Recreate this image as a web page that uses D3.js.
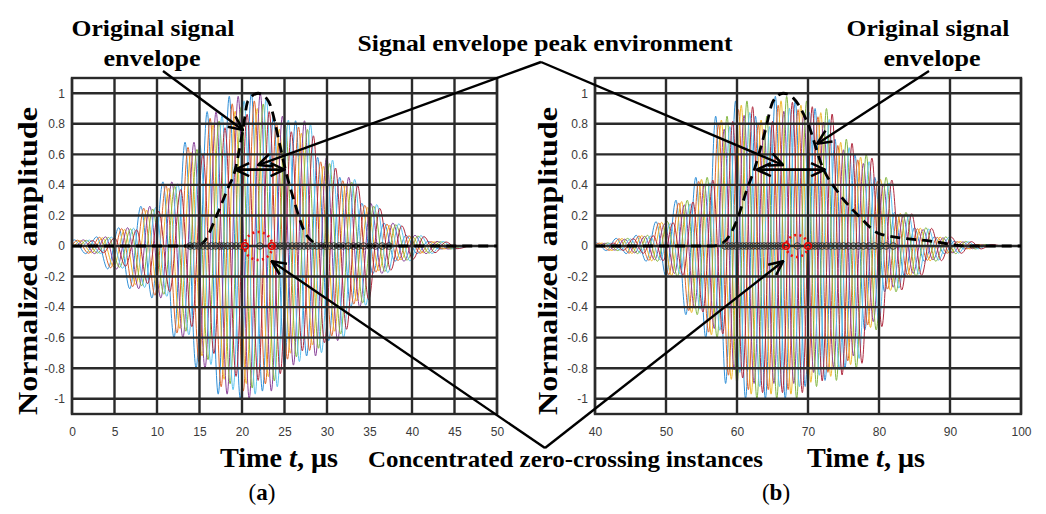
<!DOCTYPE html>
<html>
<head>
<meta charset="utf-8">
<script src="https://cdn.jsdelivr.net/npm/d3@7"></script>
<style>
  body { margin: 0; background: #fff; }
  svg { display: block; }
</style>
</head>
<body>
<svg width="1046" height="514"></svg>
<script>
/*eslint no-undef: 0*/

const colors = ['#2f8fd8', '#e0662e', '#f0b92c', '#8a4199', '#84b842', '#5cc3ef', '#b02a3f']
const ampTicks = [-1, -0.8, -0.6, -0.4, -0.2, 0, 0.2, 0.4, 0.6, 0.8, 1]
const aTimeTicks = [0, 5, 10, 15, 20, 25, 30, 35, 40, 45, 50]
const bTimeTicks = [40, 50, 60, 70, 80, 90, 100]

// extrema of one received signal (time in us, normalized amplitude)
const aExtrema = [[-0.4, 0], [0.3, 0.04], [1.6, -0.05], [2.9, 0.06], [4.2, -0.15], [5.5, 0.12], [6.8, -0.28],
  [8.1, 0.26], [9.4, -0.34], [10.7, 0.42], [12.0, -0.6], [13.3, 0.68], [14.6, -0.8], [15.9, 0.88],
  [17.2, -0.97], [18.5, 0.98], [19.8, -1.0], [21.1, 1.0], [22.4, -0.95], [23.7, 0.85], [25.0, -0.78],
  [26.3, 0.82], [27.6, -0.72], [28.9, 0.58], [30.2, -0.62], [31.5, 0.45], [32.8, -0.4], [34.1, 0.28],
  [35.4, -0.18], [36.7, 0.15], [38.0, -0.1], [39.3, 0.07], [40.6, -0.05], [41.9, 0.03], [43.2, -0.02], [44.5, 0]]
const bExtrema = [[39.5, 0], [40.2, 0.02], [41.6, -0.03], [43.0, 0.05], [44.4, -0.05], [45.8, 0.07], [47.2, -0.1],
  [48.6, 0.16], [50.0, -0.2], [51.4, 0.3], [52.8, -0.45], [54.2, 0.45], [55.6, -0.6], [57.0, 0.85],
  [58.4, -0.9], [59.8, 0.95], [61.2, -1.0], [62.6, 0.85], [64.0, -1.0], [65.4, 0.98], [66.8, -1.0],
  [68.2, 0.95], [69.6, -0.92], [71.0, 0.9], [72.4, -0.88], [73.8, 0.7], [75.2, -0.8], [76.6, 0.6],
  [78.0, -0.55], [79.4, 0.45], [80.8, -0.3], [82.2, 0.22], [83.6, -0.2], [85.0, 0.12], [86.4, -0.1],
  [87.8, 0.06], [89.2, -0.05], [90.6, 0.03], [92.0, -0.02], [93.4, 0.01], [94.8, 0]]

// time offsets and gains of the overlaid signals
const aShifts = [0, 0.35, 0.7, 1.05, 1.4, 1.75, 2.1]
const aGains = [1, 0.95, 0.9, 1, 0.93, 0.97, 0.88]
const bShifts = [0, 0.4, 0.8, 1.2, 1.6, 2.0, 2.4]
const bGains = [1, 0.94, 0.97, 0.9, 1, 0.92, 0.96]

// original signal envelope
const aEnvelope = [[0, 0], [14.5, 0], [15.4, 0.02], [17.1, 0.21], [18.2, 0.36], [19.2, 0.5], [20.1, 0.76],
  [20.7, 0.95], [21.9, 1.0], [23.1, 0.95], [24.5, 0.65], [25.1, 0.5], [26.0, 0.32], [27.6, 0.07],
  [29.5, 0], [50, 0]]
const bEnvelope = [[40, 0], [56.5, 0], [58.0, 0.02], [60.0, 0.17], [61.4, 0.37], [62.5, 0.51], [63.9, 0.74],
  [65.1, 0.95], [66.5, 1.0], [67.9, 0.97], [70.0, 0.8], [72.1, 0.51], [74.1, 0.36], [77.3, 0.19],
  [80.1, 0.08], [87.6, 0.03], [92.4, 0], [100, 0]]

// zero-crossing instances
const aZeroCross = [13.9, 14.4, 14.9, 15.4, 15.9, 16.4, 16.9, 17.4, 17.8, 18.3, 18.8, 19.3, 19.8, 22.1,
  24.0, 24.5, 24.9, 25.4, 25.9, 26.4, 26.8, 27.3, 27.8, 28.3, 28.8, 29.3, 29.8, 30.3, 30.8, 31.4,
  31.9, 32.5, 33.1, 33.7, 34.3, 35.0, 35.7, 36.5, 37.3]
const aRedCross = [20.35, 23.5]
const bZeroCross = [58.3, 58.8, 59.3, 59.8, 60.3, 60.8, 61.3, 61.8, 62.3, 62.8, 63.3, 63.8, 64.3, 64.8,
  65.3, 65.8, 66.3, 68.5, 70.5, 71.0, 71.5, 72.0, 72.6, 73.2, 73.8, 74.4, 75.0, 75.7, 76.4, 77.1,
  77.8, 78.6, 79.4, 80.2, 81.0, 82.0]
const bRedCross = [66.9, 70.0]

const aPeakSpan = [19.2, 25.0]
const bPeakSpan = [62.8, 72.4]

const svg = d3.select('svg')
const defs = svg.append('defs')
const serif = "'Liberation Serif', 'DejaVu Serif', serif"

defs.append('marker')
  .attr('id', 'head')
  .attr('viewBox', '0 0 16 16')
  .attr('refX', 15)
  .attr('refY', 8)
  .attr('markerWidth', 16)
  .attr('markerHeight', 16)
  .attr('markerUnits', 'userSpaceOnUse')
  .attr('orient', 'auto-start-reverse')
  .append('path')
    .attr('d', 'M1,1.5 L15,8 L1,14.5')
    .attr('fill', 'none')
    .attr('stroke', '#000')
    .attr('stroke-width', 2.6)

const plotTop = 78
const plotBottom = 414

function drawPanel (p) {
  const x = d3.scaleLinear().domain(p.xDomain).range(p.xRange)
  const y = d3.scaleLinear().domain([-1.1, 1.1]).range([plotBottom, plotTop])
  const g = svg.append('g')

  defs.append('clipPath').attr('id', 'clip-' + p.name)
    .append('rect')
      .attr('x', p.xRange[0])
      .attr('y', plotTop)
      .attr('width', p.xRange[1] - p.xRange[0])
      .attr('height', plotBottom - plotTop)

  const waves = g.append('g').attr('clip-path', 'url(#clip-' + p.name + ')')
  const line = d3.line().x(d => x(d[0])).y(d => y(d[1])).curve(d3.curveMonotoneX)

  p.shifts.forEach((s, i) => {
    waves.append('path')
      .attr('d', line(p.extrema.map(d => [d[0] + s, d[1] * p.gains[i]])))
      .attr('fill', 'none')
      .attr('stroke', colors[i % colors.length])
      .attr('stroke-width', 1)
  })

  // grid on top of the signals
  const grid = g.append('g').attr('stroke', '#2a2a2a').attr('stroke-width', 2.4)
  grid.selectAll('.v').data(p.xTicks).enter().append('line')
    .attr('x1', d => x(d)).attr('x2', d => x(d))
    .attr('y1', plotTop).attr('y2', plotBottom)
  grid.selectAll('.h').data(ampTicks).enter().append('line')
    .attr('x1', p.xRange[0]).attr('x2', p.xRange[1])
    .attr('y1', d => y(d)).attr('y2', d => y(d))
  grid.append('rect')
    .attr('x', p.xRange[0]).attr('y', plotTop)
    .attr('width', p.xRange[1] - p.xRange[0]).attr('height', plotBottom - plotTop)
    .attr('fill', 'none')

  const xAxis = g.append('g')
    .attr('transform', 'translate(0,' + plotBottom + ')')
    .call(d3.axisBottom(x).tickValues(p.xTicks).tickSize(0).tickPadding(13).tickFormat(d => String(d)))
  const yAxis = g.append('g')
    .attr('transform', 'translate(' + p.xRange[0] + ',0)')
    .call(d3.axisLeft(y).tickValues(ampTicks).tickSize(0).tickPadding(7).tickFormat(d => String(d)))
  ;[xAxis, yAxis].forEach(a => {
    a.select('.domain').remove()
    a.selectAll('text')
      .attr('font-family', "'Liberation Sans', Arial, sans-serif")
      .attr('font-size', 12)
      .attr('fill', '#3a3a3a')
  })

  // dashed envelope
  g.append('path')
    .attr('d', line(p.envelope))
    .attr('fill', 'none')
    .attr('stroke', '#000')
    .attr('stroke-width', 2.8)
    .attr('stroke-dasharray', '10,6')

  // zero-crossing instances
  g.append('g').selectAll('circle').data(p.zeroCross).enter().append('circle')
    .attr('cx', d => x(d)).attr('cy', y(0)).attr('r', 3.3)
    .attr('fill', 'none').attr('stroke', '#333').attr('stroke-width', 1)
  g.append('g').selectAll('circle').data(p.redCross).enter().append('circle')
    .attr('cx', d => x(d)).attr('cy', y(0)).attr('r', 3.3)
    .attr('fill', 'none').attr('stroke', '#e00000').attr('stroke-width', 1.6)

  const mid = d3.mean(p.redCross)
  g.append('circle')
    .attr('cx', x(mid)).attr('cy', y(0)).attr('r', p.ringR)
    .attr('fill', 'none')
    .attr('stroke', '#ee1111')
    .attr('stroke-width', 2.6)
    .attr('stroke-dasharray', '2,3.4')

  // envelope peak environment (half-level span)
  g.append('line')
    .attr('x1', x(p.peakSpan[0])).attr('x2', x(p.peakSpan[1]))
    .attr('y1', y(0.5)).attr('y2', y(0.5))
    .attr('stroke', '#000').attr('stroke-width', 2.6)
    .attr('marker-start', 'url(#head)')
    .attr('marker-end', 'url(#head)')

  return { x, y }
}

const pa = drawPanel({
  name: 'a', xDomain: [0, 50], xRange: [72, 497], xTicks: aTimeTicks,
  extrema: aExtrema, shifts: aShifts, gains: aGains, envelope: aEnvelope,
  zeroCross: aZeroCross, redCross: aRedCross, peakSpan: aPeakSpan, ringR: 14
})
const pb = drawPanel({
  name: 'b', xDomain: [40, 100], xRange: [595, 1021], xTicks: bTimeTicks,
  extrema: bExtrema, shifts: bShifts, gains: bGains, envelope: bEnvelope,
  zeroCross: bZeroCross, redCross: bRedCross, peakSpan: bPeakSpan, ringR: 11
})

// annotation arrows
const notes = svg.append('g').attr('stroke', '#000').attr('stroke-width', 2.4).attr('fill', 'none')

function arrow (x1, y1, x2, y2) {
  notes.append('line')
    .attr('x1', x1).attr('y1', y1).attr('x2', x2).attr('y2', y2)
    .attr('marker-end', 'url(#head)')
}

arrow(163, 71, pa.x(20.1), pa.y(0.76))
arrow(929, 71, pb.x(71.3), pb.y(0.67))
arrow(541, 62, pa.x(21.9), pa.y(0.53))
arrow(541, 62, pb.x(66.5), pb.y(0.53))
arrow(545, 448, pa.x(23.5), pa.y(-0.1))
arrow(545, 448, pb.x(66.5), pb.y(-0.1))

// texts
const texts = svg.append('g')
  .attr('font-family', serif)
  .attr('font-weight', 'bold')
  .attr('fill', '#000')

function label (str, x, y, size, len, anchor) {
  return texts.append('text')
    .attr('x', x).attr('y', y)
    .attr('font-size', size)
    .attr('text-anchor', anchor || 'middle')
    .attr('textLength', len)
    .attr('lengthAdjust', 'spacingAndGlyphs')
    .text(str)
}

label('Original signal', 153, 36, 24, 163)
label('envelope', 152, 66, 24, 97)
label('Original signal', 928, 36, 24, 163)
label('envelope', 932, 66, 24, 97)
label('Signal envelope peak environment', 545, 51, 24, 375)
label('Concentrated zero-crossing instances', 368, 467, 24, 395, 'start')

;[37, 557].forEach(bx => {
  texts.append('text')
    .attr('transform', 'translate(' + bx + ',261) rotate(-90)')
    .attr('text-anchor', 'middle')
    .attr('font-size', 28)
    .attr('textLength', 308)
    .attr('lengthAdjust', 'spacingAndGlyphs')
    .text('Normalized amplitude')
})

;[[220, 'a', 262], [807, 'b', 776]].forEach(([tx, tag, cx]) => {
  const t = texts.append('text')
    .attr('x', tx).attr('y', 467)
    .attr('font-size', 27)
    .attr('textLength', 118)
    .attr('lengthAdjust', 'spacingAndGlyphs')
  t.append('tspan').text('Time ')
  t.append('tspan').attr('font-style', 'italic').text('t')
  t.append('tspan').text(', μs')

  const c = texts.append('text')
    .attr('x', cx).attr('y', 500)
    .attr('font-size', 23)
    .attr('text-anchor', 'middle')
  c.append('tspan').attr('font-weight', 'normal').text('(')
  c.append('tspan').text(tag)
  c.append('tspan').attr('font-weight', 'normal').text(')')
})
</script>
</body>
</html>
